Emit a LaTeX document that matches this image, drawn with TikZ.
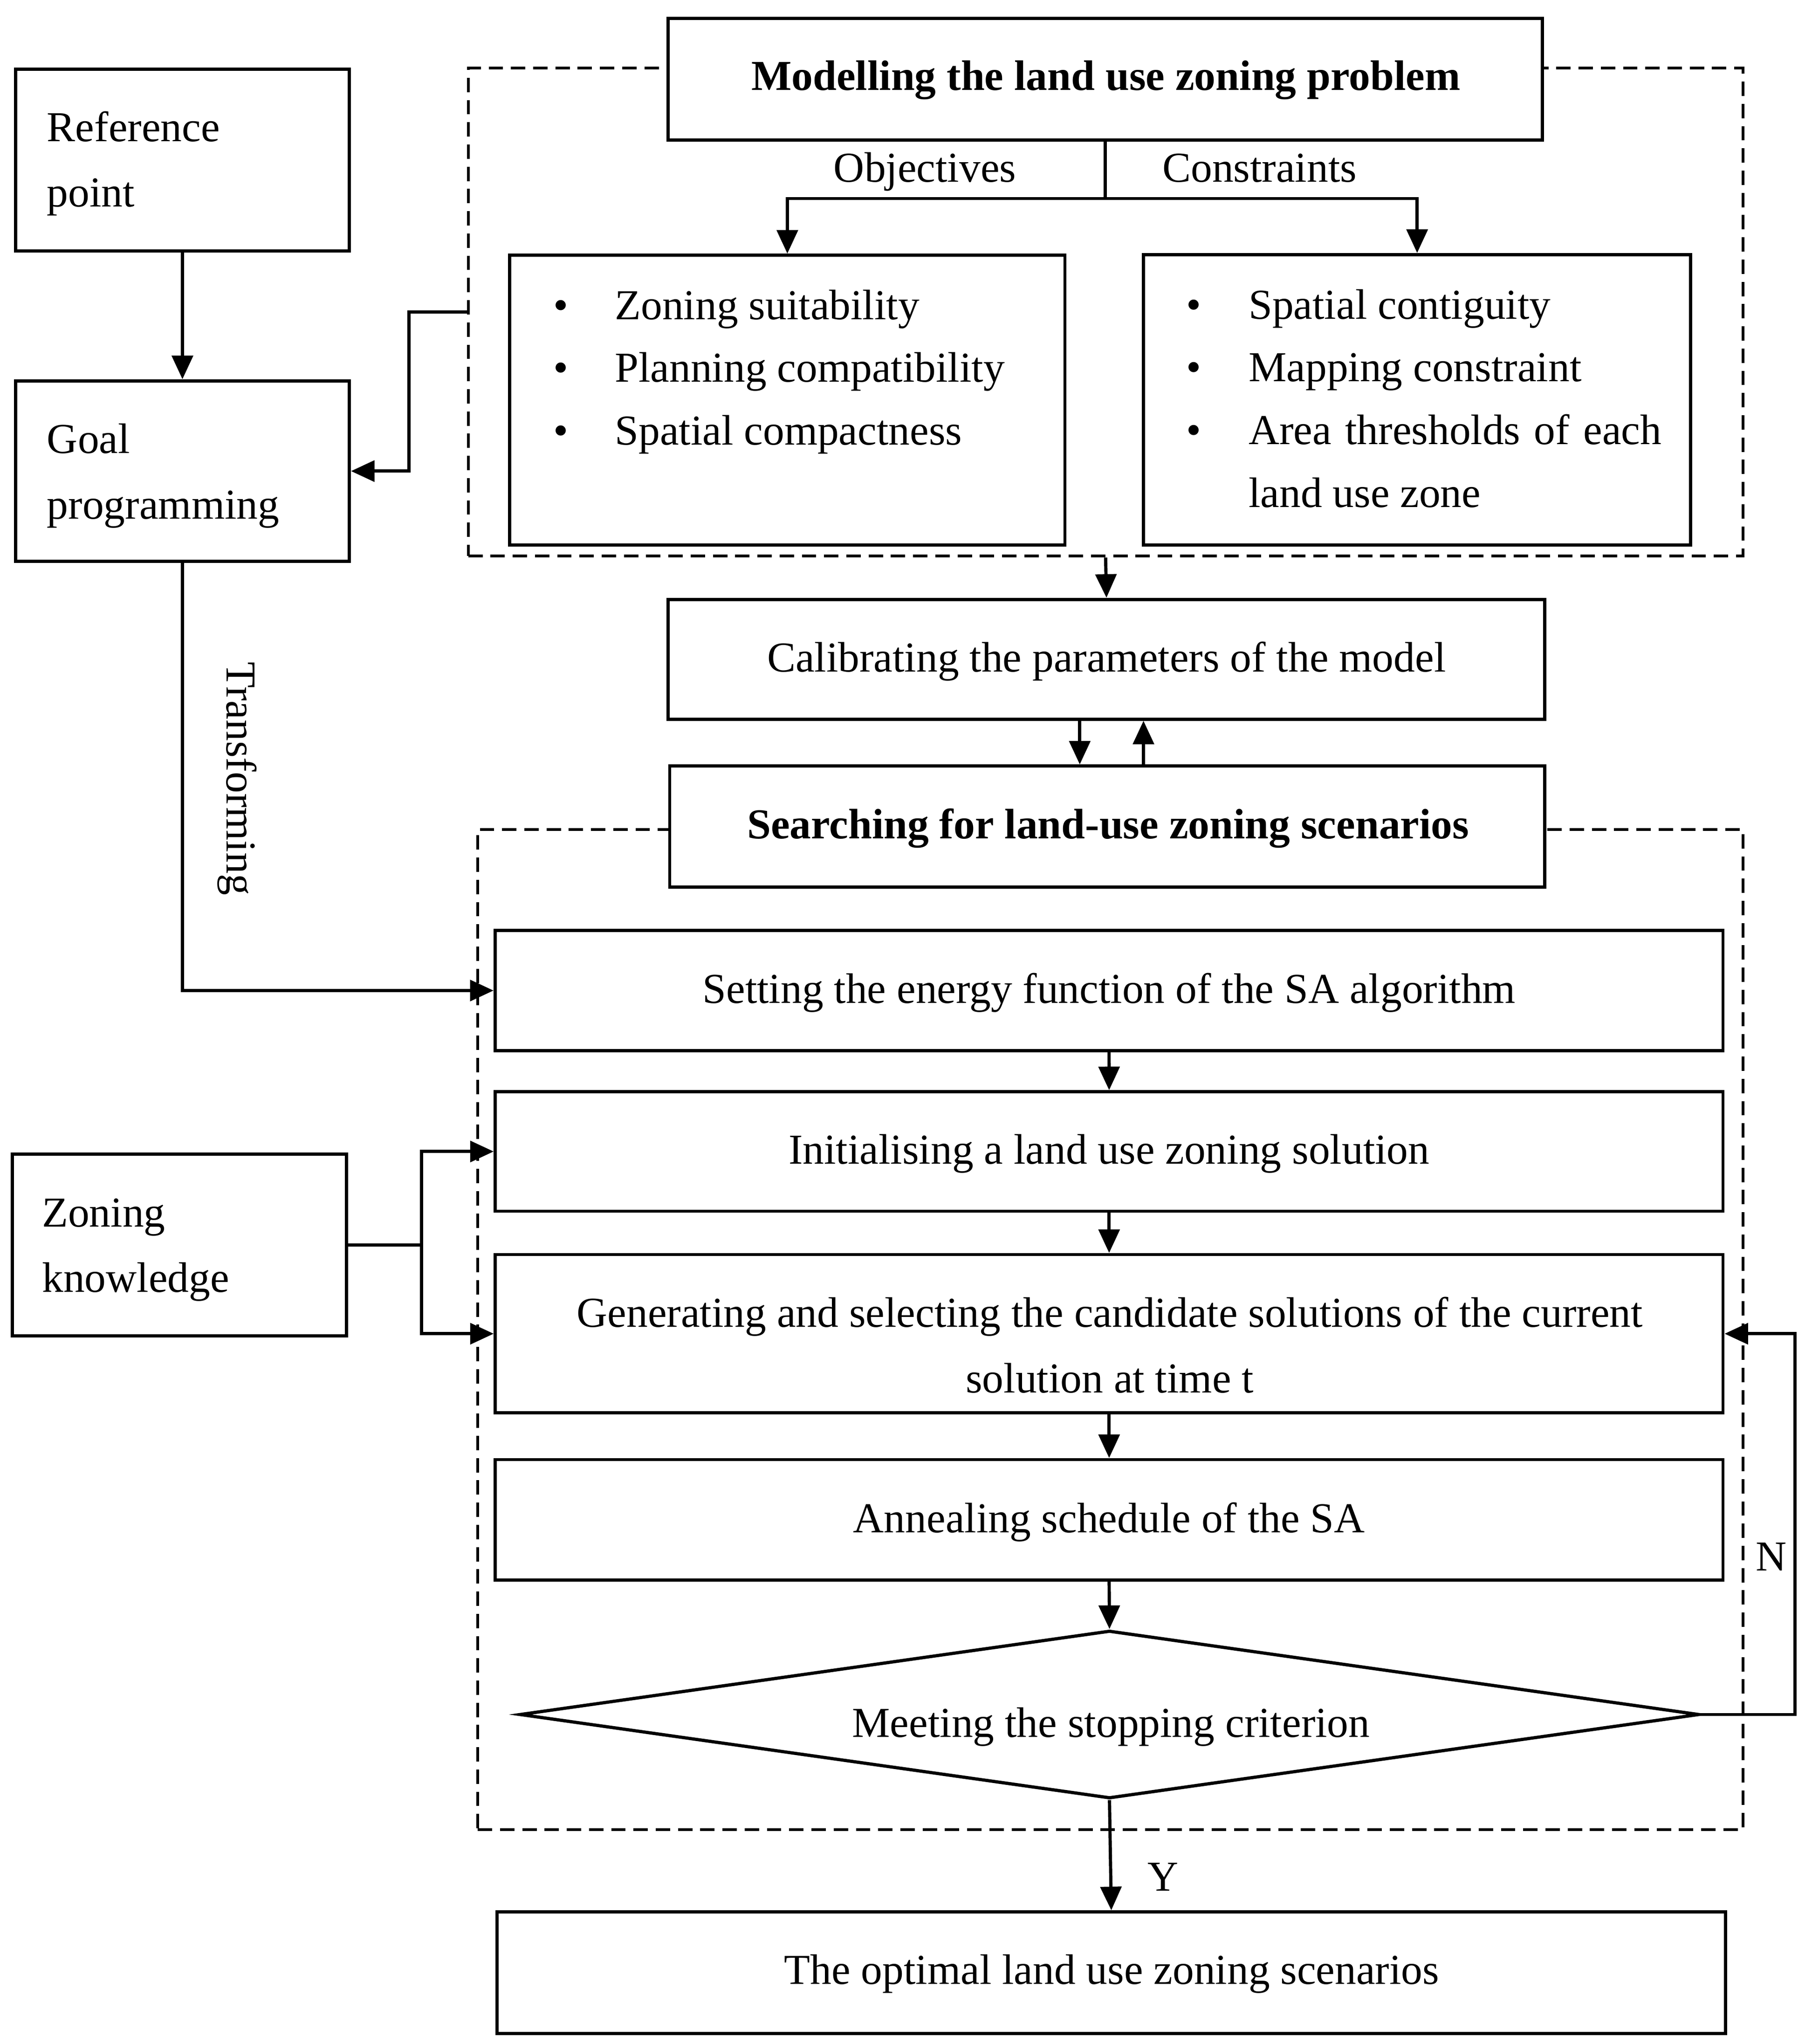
\documentclass[tikz,border=0pt]{standalone}
\usepackage{fontspec}
\setmainfont{Liberation Serif}
\usetikzlibrary{arrows.meta,shapes.geometric}
\newcommand{\fsA}{\fontsize{18.55pt}{28.45pt}\selectfont}
\newcommand{\fsB}{\fontsize{18.55pt}{27.3pt}\selectfont}
\begin{document}
\begin{tikzpicture}[x=0.02cm,y=-0.02cm,
  box/.style={draw, line width=1.4pt, fill=white, rectangle, inner sep=0pt},
  grp/.style={draw, line width=1.25pt, dash pattern=on 0.22cm off 0.12cm, rectangle, inner sep=0pt},
  txt/.style={inner sep=0pt, font=\fsA},
  btxt/.style={inner sep=0pt, font=\fsA\bfseries},
  lst/.style={inner sep=0pt, font=\fsB},
  arr/.style={line width=1.4pt, -{Triangle[length=0.36cm,width=0.32cm]}},
  ln/.style={line width=1.4pt},
  dia/.style={draw, diamond, line width=1.4pt, inner sep=0pt, fill=white}
]
\useasboundingbox (0,0) rectangle (1384.3,1562);

% group frames
\node[grp, minimum width=19.486cm, minimum height=7.46cm] (d1) at (844.85,238.5) {};
\node[grp, minimum width=19.34cm, minimum height=15.29cm] (d2) at (848.5,1016.05) {};

% boxes
\node[box, minimum width=5.104cm, minimum height=2.778cm] (ref) at (139.4,122.25) {};
\node[box, minimum width=5.104cm, minimum height=2.76cm] (goal) at (139.4,360) {};
\node[box, minimum width=5.108cm, minimum height=2.78cm] (zon) at (137.2,951.5) {};
\node[box, minimum width=13.364cm, minimum height=1.856cm] (mod) at (844.5,60.6) {};
\node[box, minimum width=8.486cm, minimum height=4.43cm] (obj) at (601.65,305.75) {};
\node[box, minimum width=8.364cm, minimum height=4.44cm] (con) at (1082.9,305.5) {};
\node[box, minimum width=13.404cm, minimum height=1.832cm] (calib) at (845.5,503.8) {};
\node[box, minimum width=13.378cm, minimum height=1.848cm] (search) at (846.15,631.6) {};
\node[box, minimum width=18.768cm, minimum height=1.842cm] (setting) at (847.5,756.95) {};
\node[box, minimum width=18.766cm, minimum height=1.826cm] (init) at (847.55,879.95) {};
\node[box, minimum width=18.766cm, minimum height=2.42cm] (gen) at (847.55,1019.2) {};
\node[box, minimum width=18.766cm, minimum height=1.84cm] (anneal) at (847.55,1161.4) {};
\node[dia, minimum width=18.032cm, minimum height=2.566cm] (crit) at (847.8,1310.2) {};
\node[box, minimum width=18.78cm, minimum height=1.86cm] (final) at (849.2,1507.5) {};

% connectors
\draw[arr] (ref.south) -- (goal.north);
\coordinate (d1l) at (357.7,238.5);
\draw[arr] (d1l) -- ++(-45.1,0) |- (goal.east);
\draw[ln] (mod.south) -- ++(0,43.5) coordinate (br);
\draw[arr] (br) -| (obj.north);
\draw[arr] (br) -| (con.north);
\draw[arr] (d1.south) -- (calib.north);
\draw[arr] ([xshift=-0.408cm]calib.south) -- ([xshift=-0.408cm]calib.south |- search.north);
\draw[arr] ([xshift=0.566cm]calib.south |- search.north) -- ([xshift=0.566cm]calib.south);
\draw[arr] (goal.south) |- (setting.west);
\draw[arr] (setting.south) -- (init.north);
\draw[arr] (init.south) -- (gen.north);
\draw[arr] (gen.south) -- (anneal.north);
\draw[arr] (anneal.south) -- (crit.north);
\draw[arr] (crit.south) -- (final.north);
\draw[ln] (zon.east) -- ++(56.1,0) coordinate (zb);
\draw[arr] (zb) |- (init.west);
\draw[arr] (zb) |- (gen.west);
\draw[arr] (crit.east) -- ++(72,0) |- (gen.east);

% texts
\node[txt, anchor=base west] (reft) at (35.6,108) {\begin{tabular}[t]{@{}l@{}}Reference\\point\end{tabular}};
\node[txt, anchor=base west] (goalt) at (35.6,346.4) {\begin{tabular}[t]{@{}l@{}}Goal\\programming\end{tabular}};
\node[txt, anchor=base west] (zont) at (31.8,937.4) {\begin{tabular}[t]{@{}l@{}}Zoning\\knowledge\end{tabular}};
\node[btxt, anchor=base] (modt) at (845,69) {Modelling the land use zoning problem};
\node[txt, anchor=base] (objt) at (706.8,139) {Objectives};
\node[txt, anchor=base] (cont) at (962.5,139) {Constraints};
\node[lst, anchor=base west] (objl) at (422.6,244) {\begin{tabular}[t]{@{}p{0.94cm}@{}l@{}}•&Zoning suitability\\•&Planning compatibility\\•&Spatial compactness\end{tabular}};
\node[lst, anchor=base west] (conl) at (906.1,243.6) {\begin{tabular}[t]{@{}p{0.955cm}@{}l@{}}•&Spatial contiguity\\•&Mapping constraint\\•&Area\hspace{0.07em} thresholds\hspace{0.07em} of\hspace{0.07em} each\\&land use zone\end{tabular}};
\node[txt, anchor=base] (calt) at (845.5,513.2) {Calibrating the parameters of the model};
\node[btxt, anchor=base] (seat) at (846.8,641) {Searching for land-use zoning scenarios};
\node[txt, anchor=base] (sett) at (847.5,766.5) {Setting the energy function of the SA algorithm};
\node[txt, anchor=base] (initt) at (847.5,889.5) {Initialising a land use zoning solution};
\node[txt, anchor=base] (gent) at (848,1014.2) {\begin{tabular}[t]{@{}c@{}}Generating and selecting the candidate solutions of the current\\solution at time t\end{tabular}};
\node[txt, anchor=base] (annt) at (847.5,1171) {Annealing schedule of the SA};
\node[txt, anchor=base] (critt) at (849,1327.6) {Meeting the stopping criterion};
\node[txt, anchor=base] (fint) at (849.5,1516.2) {The optimal land use zoning scenarios};
\node[txt, anchor=base] (nlab) at (1353.5,1200.2) {N};
\node[txt, anchor=base] (ylab) at (888.8,1445) {Y};
\node[txt, anchor=base, rotate=-90] (trt) at (173.3,595) {Transforming};
\end{tikzpicture}
\end{document}
